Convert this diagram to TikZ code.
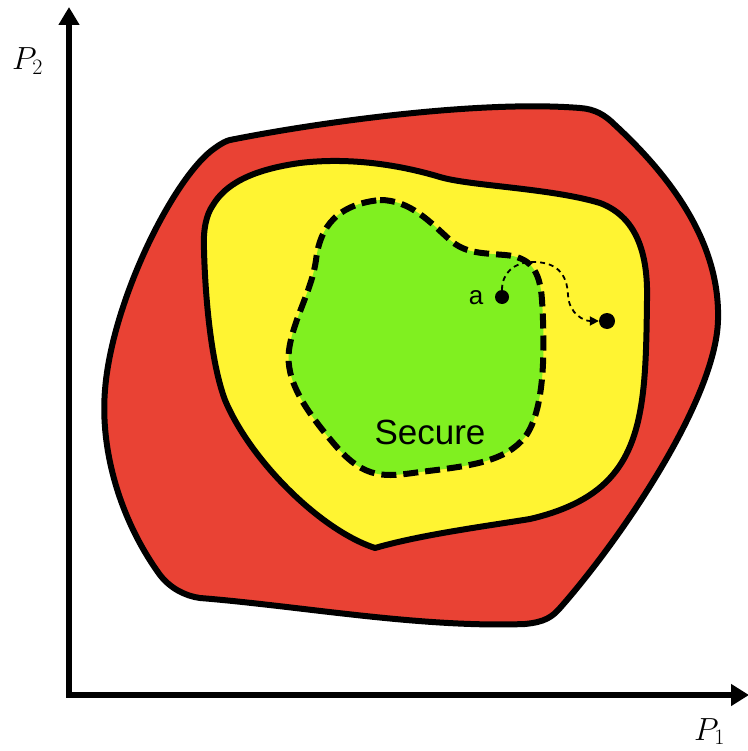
\RequirePackage{fix-cm}
\documentclass[tikz,border=0pt]{standalone}
\usepackage{fontspec}
\setsansfont{Liberation Sans}
\usetikzlibrary{arrows.meta}
\definecolor{zred}{RGB}{233,66,52}
\definecolor{zyellow}{RGB}{255,244,50}
\definecolor{zgreen}{RGB}{128,240,32}
\newcommand{\subnum}[1]{\mbox{\fontsize{22}{22}\selectfont #1}}
\tikzset{
  region/.style={draw=black, line width=6pt, line join=round},
  dashregion/.style={draw=black, line width=6pt, dash pattern=on 15pt off 7pt},
  axisline/.style={line width=6pt, line join=miter, {Triangle[length=18pt,width=20pt]}-{Triangle[length=18pt,width=21pt]}},
  dot/.style={circle, fill=black, inner sep=0pt, minimum size=14pt},
  bigdot/.style={circle, fill=black, inner sep=0pt, minimum size=16pt},
  trail/.style={line width=1.8pt, dash pattern=on 5pt off 4pt, -{Triangle[length=9pt,width=9pt]}},
  lbl/.style={font=\sffamily\fontsize{26}{30}\selectfont, inner sep=0pt},
  biglbl/.style={font=\sffamily\fontsize{35}{40}\selectfont, inner sep=0pt},
  axlbl/.style={font=\fontsize{32}{36}\selectfont, inner sep=0pt}
}
\begin{document}
\begin{tikzpicture}[x=1pt,y=-1pt]
\useasboundingbox (0,0) rectangle (747,751);
% red region
\path[region, fill=zred] (230,140)
 .. controls (320,122) and (480,100) .. (580,108)
 .. controls (595,109) and (605,115) .. (615,125)
 .. controls (680,185) and (720,250) .. (718,320)
 .. controls (716,400) and (620,540) .. (560,608)
 .. controls (552,617) and (545,622) .. (525,624)
 .. controls (420,628) and (300,606) .. (200,598)
 .. controls (185,596) and (170,588) .. (160,575)
 .. controls (120,520) and (100,450) .. (105,390)
 .. controls (112,300) and (175,175) .. (215,148)
 .. controls (222,143) and (226,141) .. (230,140) -- cycle;
% yellow region
\path[region, fill=zyellow] (213,205)
 .. controls (225,185) and (250,170) .. (300,163)
 .. controls (350,157) and (400,165) .. (440,177)
 .. controls (470,186) and (550,188) .. (600,203)
 .. controls (640,218) and (648,260) .. (647,300)
 .. controls (646,380) and (645,440) .. (610,478)
 .. controls (590,500) and (560,512) .. (530,519)
 .. controls (480,527) and (420,535) .. (375,548)
 .. controls (320,530) and (250,460) .. (225,400)
 .. controls (210,360) and (205,290) .. (204,250)
 .. controls (203,230) and (206,215) .. (213,205) -- cycle;
% green region
\path[dashregion, fill=zgreen] (380,200)
 .. controls (410,200) and (430,222) .. (450,240)
 .. controls (465,253) and (480,253) .. (505,255)
 .. controls (530,257) and (540,270) .. (542,300)
 .. controls (545,350) and (545,410) .. (525,437)
 .. controls (505,462) and (470,466) .. (420,472)
 .. controls (385,477) and (365,480) .. (335,445)
 .. controls (305,410) and (285,380) .. (289,350)
 .. controls (293,320) and (312,290) .. (316,260)
 .. controls (319,235) and (330,205) .. (380,200) -- cycle;
% axes
\coordinate (ytip) at (69,7);
\coordinate (origin) at (69,695);
\coordinate (xtip) at (749,695);
\draw[axisline] (ytip) -- (origin) -- (xtip);
\node[axlbl, anchor=base west] (p2) at (12,70) {$P_{\subnum{2}}$};
\node[axlbl, anchor=base west] (p1) at (694,740) {$P_{\subnum{1}}$};
% points
\node[dot] (a) at (502,297) {};
\node[bigdot] (b) at (607,321) {};
\node[lbl] (la) at (476,298) {a};
\node[biglbl] (sec) at (430,432) {Secure};
\draw[trail] (a) .. controls (502,273) and (514,262) .. (533,262)
  .. controls (556,262) and (567,273) .. (568,295)
  .. controls (569,314) and (584,321) .. (b);
\end{tikzpicture}
\end{document}
